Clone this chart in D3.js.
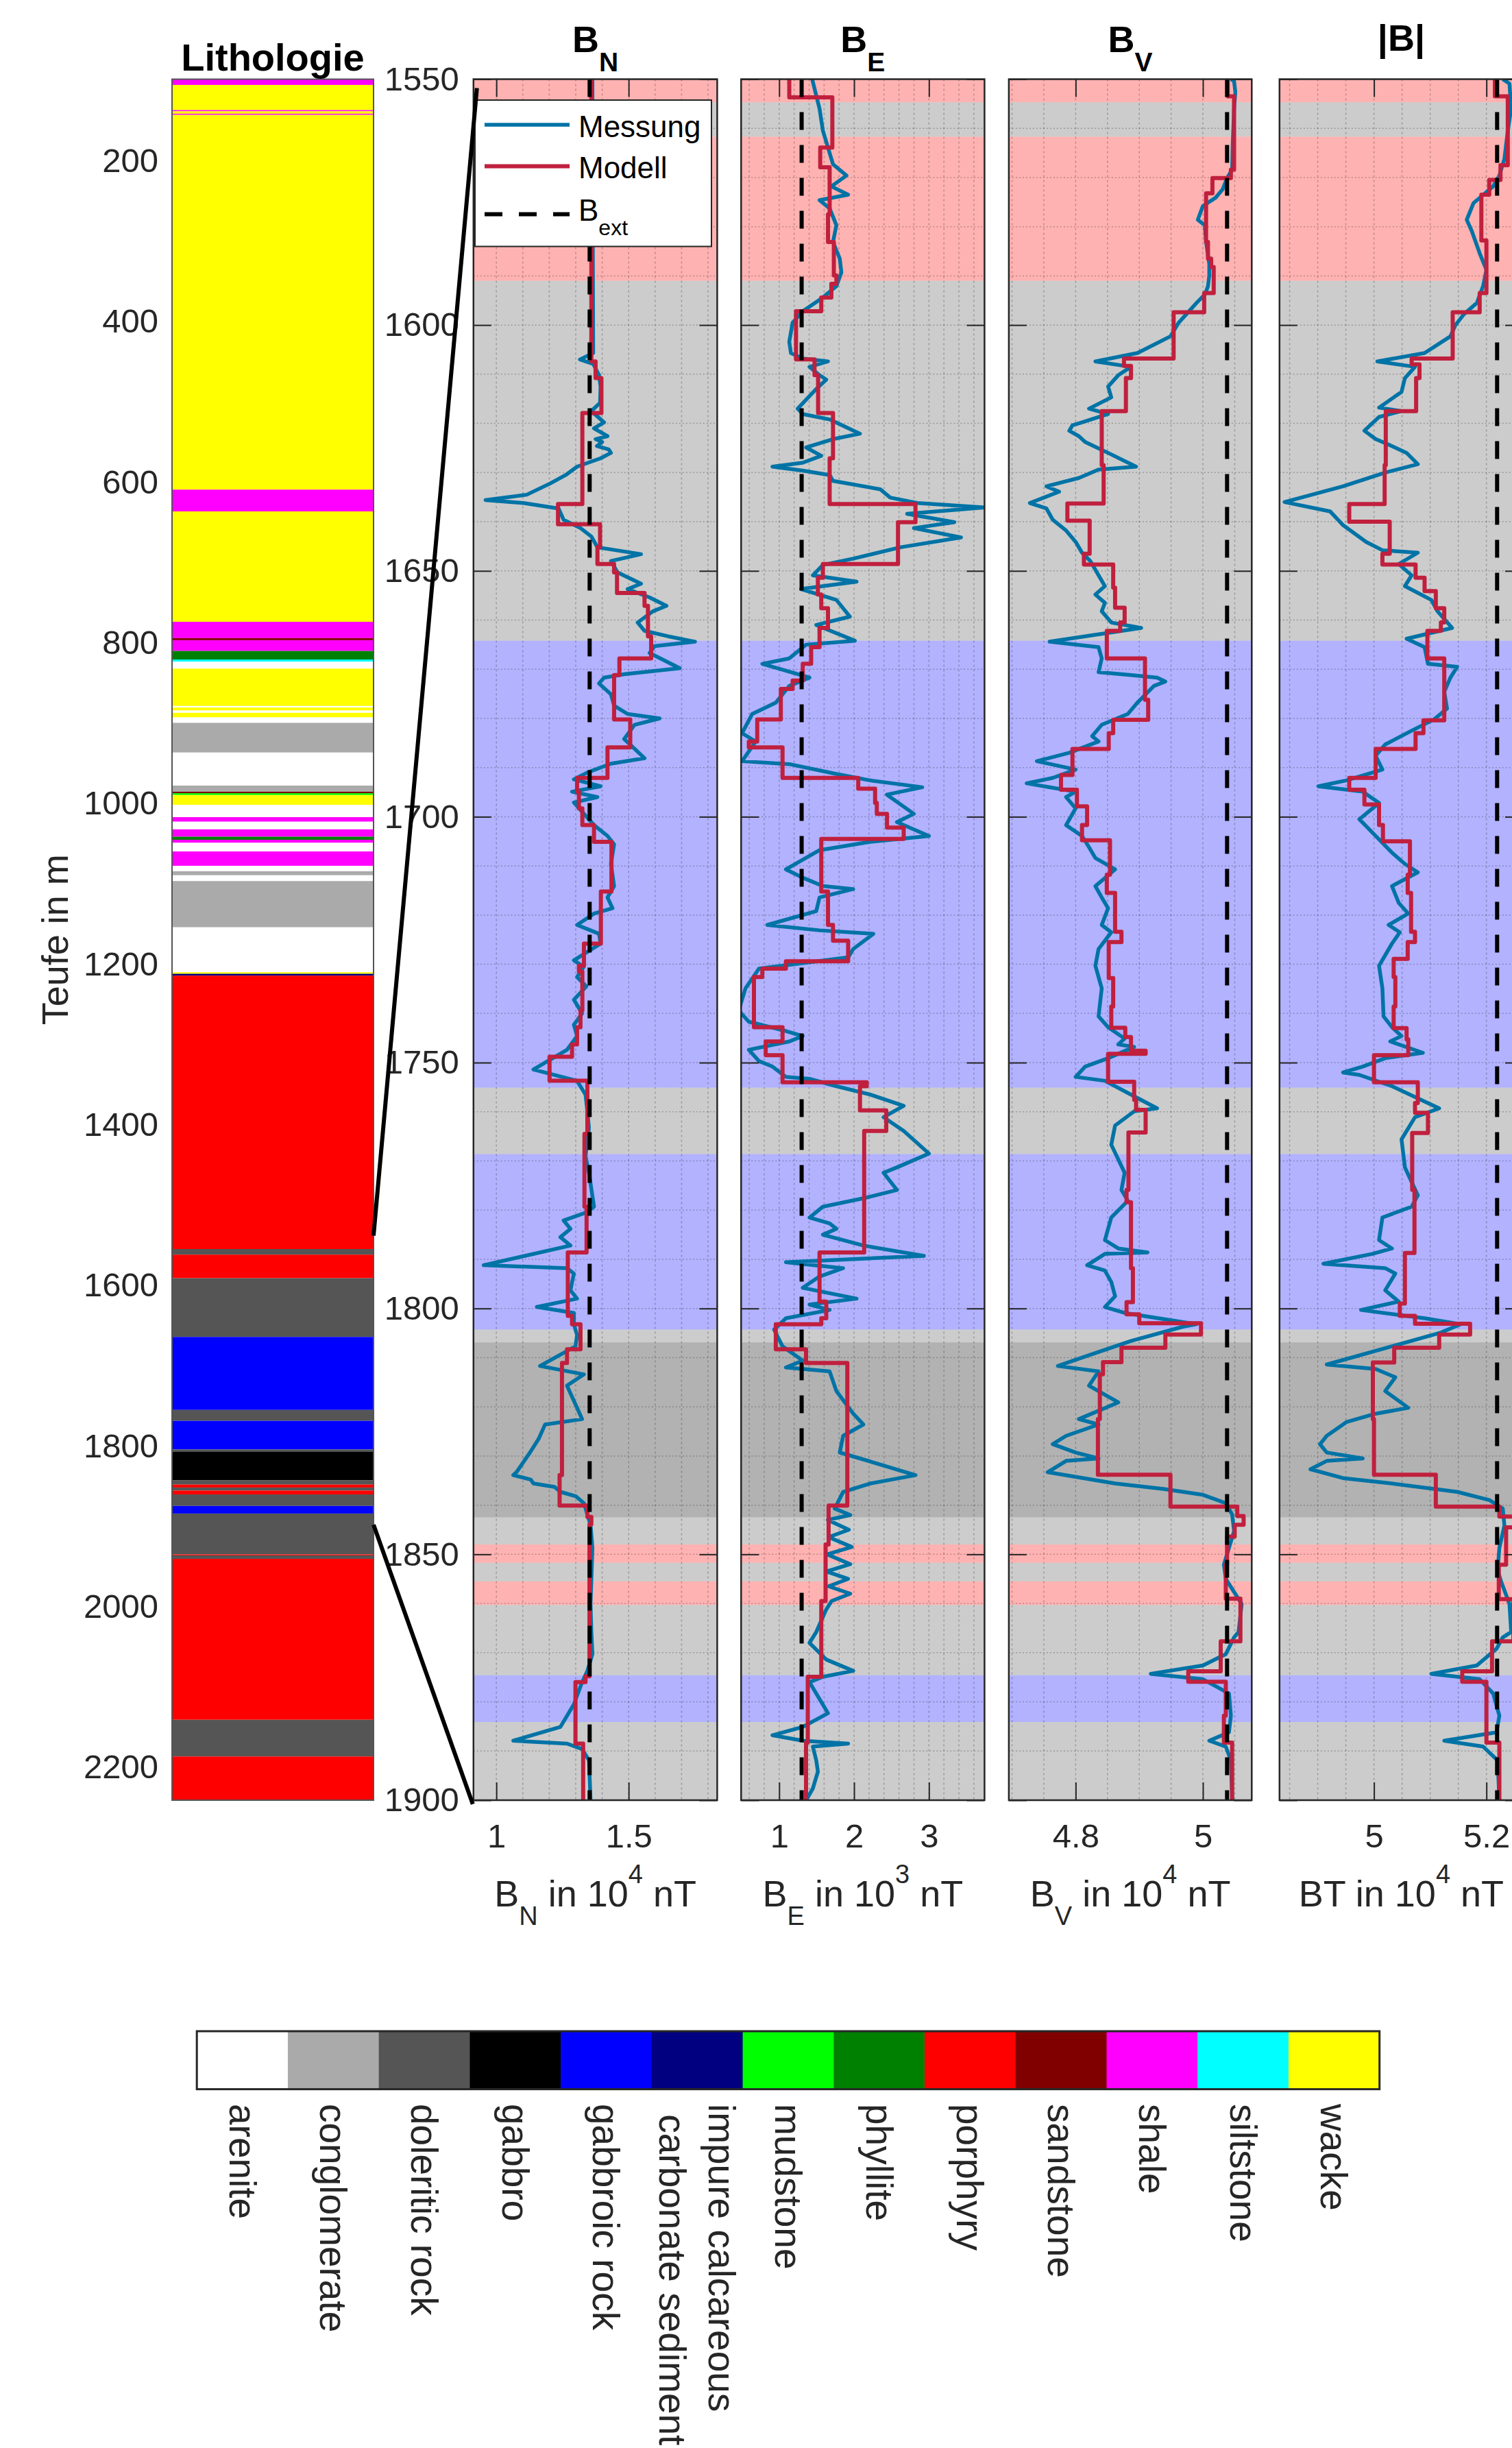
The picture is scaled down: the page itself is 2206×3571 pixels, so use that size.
<!DOCTYPE html>
<html><head><meta charset="utf-8">
<script src="https://cdn.jsdelivr.net/npm/d3@7"></script>
<style>body{margin:0;background:#fff} svg{display:block} text{font-family:"Liberation Sans",Arial,Helvetica,sans-serif}</style>
</head><body><svg id="c" width="2206" height="3571"></svg>
<script>
// ---------------- DATA ----------------
const lithoNames = ["arenite","conglomerate","doleritic rock","gabbro","gabbroic rock","impure calcareous\n carbonate sediment","mudstone","phyllite","porphyry","sandstone","shale","siltstone","wacke"];
const lithoColors = ["#ffffff","#aaaaaa","#555555","#000000","#0000ff","#000080","#00ff00","#008000","#ff0000","#800000","#ff00ff","#00ffff","#ffff00"];
// [top, bottom, lithology index]
const lithoLayers = [
[98,105.2,10],[105.2,136.5,12],[136.5,138,10],[138,141,12],[141,142.5,10],[142.5,609.1,12],[609.1,636.2,10],[636.2,773.7,12],
[773.7,794,10],[794,796.6,9],[796.6,810,10],[810,820.6,7],[820.6,823.3,11],[823.3,832,0],[832,878.5,12],[878.5,880.4,0],
[880.4,884.2,12],[884.2,887,0],[887,892.7,12],[892.7,899.5,0],[899.5,936.5,1],[936.5,977.6,0],[977.6,985.2,1],[985.2,987.1,9],
[987.1,989.4,6],[989.4,1001.6,12],[1001.6,1016.9,0],[1016.9,1022.6,10],[1022.6,1032.1,0],[1032.1,1041.3,10],[1041.3,1045.1,7],
[1045.1,1048.9,10],[1048.9,1059.6,0],[1059.6,1077.5,10],[1077.5,1084.3,0],[1084.3,1089.3,1],[1089.3,1096.5,0],[1096.5,1154.1,1],
[1154.1,1210.1,0],[1210.1,1212,12],[1212,1214.3,5],[1214.3,1554.7,8],[1554.7,1561.7,2],[1561.7,1591,8],[1591,1664.2,2],
[1664.2,1755.1,4],[1755.1,1768.6,2],[1768.6,1804.3,4],[1804.3,1806.9,2],[1806.9,1842.5,3],[1842.5,1848,2],[1848,1851.7,8],
[1851.7,1855.5,2],[1855.5,1860.3,8],[1860.3,1874.6,2],[1874.6,1884.1,4],[1884.1,1935,2],[1935,1936.2,8],[1936.2,1940.5,2],
[1940.5,2140.9,8],[2140.9,2186.6,2],[2186.6,2241,8]];
const lithoDomain = [98, 2241];
const lithoTicks = [200,400,600,800,1000,1200,1400,1600,1800,2000,2200];
const panelDomain = [1550, 1900];
const panelTicks = [1550,1600,1650,1700,1750,1800,1850,1900];
const zoomFrom = [1538, 1898];   // depths on the lithology column
const zoomTo = [1551.8, 1900.8]; // depths on the detail panels

const bnDomain=[0.9135,1.8347], bnTicks=[1,1.5], bnMinor=0.1, bnExt=1.3526;
const beDomain=[0.492,3.742], beTicks=[1,2,3], beMinor=0.2, beExt=1.30;
const bvDomain=[4.695,5.0768], bvTicks=[4.8,5], bvMinor=0.05, bvExt=5.038;
const btDomain=[4.832,5.265], btTicks=[5,5.2], btMinor=0.05, btExt=5.219;

// Messung: [depth, value]
const bnMessung = [[1550,1.363],[1577.5,1.364],[1605.7,1.366],[1607.0,1.316],[1607.9,1.366],[1610.2,1.388],[1612.5,1.394],[1615.8,1.392],[1617.5,1.359],[1619.8,1.407],[1621.0,1.369],[1622.6,1.420],[1623.2,1.375],[1623.8,1.400],[1624.6,1.38],[1625.3,1.425],[1626.0,1.433],[1627.1,1.394],[1628.8,1.305],[1630.5,1.262],[1632.2,1.204],[1634.5,1.115],[1635.6,0.959],[1636.2,1.102],[1637.3,1.235],[1639.6,1.254],[1641.3,1.318],[1643.0,1.359],[1645.2,1.382],[1646.6,1.547],[1648.0,1.433],[1650.3,1.458],[1652.6,1.547],[1653.7,1.496],[1655.4,1.579],[1657.1,1.643],[1658.2,1.592],[1660.5,1.534],[1662.2,1.560],[1663.3,1.649],[1664.4,1.751],[1665.3,1.598],[1666.7,1.579],[1669.8,1.693],[1671.0,1.483],[1671.7,1.407],[1672.9,1.388],[1675.1,1.433],[1677.4,1.445],[1679.1,1.496],[1680.0,1.617],[1681.3,1.522],[1684.2,1.483],[1688.1,1.560],[1689.2,1.433],[1691.0,1.344],[1692.4,1.293],[1693.8,1.394],[1694.9,1.286],[1696.0,1.382],[1697.1,1.293],[1699.4,1.331],[1701.7,1.369],[1703.9,1.420],[1705.6,1.445],[1709.6,1.433],[1714.1,1.445],[1716.4,1.420],[1718.6,1.439],[1719.7,1.369],[1722.0,1.305],[1723.1,1.356],[1723.8,1.388],[1725.8,1.394],[1729.2,1.293],[1730.5,1.33],[1732.6,1.305],[1734.5,1.34],[1737.2,1.293],[1740.0,1.324],[1742.3,1.293],[1744.6,1.305],[1747.4,1.267],[1751.4,1.140],[1753.7,1.305],[1756.5,1.337],[1759.9,1.344],[1763.3,1.350],[1769.0,1.337],[1772.4,1.350],[1779.3,1.369],[1780.4,1.344],[1782.1,1.254],[1783.8,1.280],[1785.5,1.242],[1787.2,1.280],[1791.2,0.952],[1791.8,1.267],[1792.9,1.293],[1796.3,1.280],[1798.0,1.305],[1799.7,1.153],[1800.9,1.293],[1803.2,1.293],[1805.4,1.305],[1807.7,1.299],[1811.7,1.165],[1813.4,1.331],[1815.7,1.267],[1820.2,1.305],[1822.5,1.324],[1823.6,1.184],[1826.5,1.16],[1829.3,1.127],[1833.3,1.076],[1833.9,1.064],[1834.8,1.13],[1835.6,1.140],[1836.3,1.22],[1837.3,1.242],[1838.2,1.30],[1839.6,1.331],[1841.9,1.344],[1844.1,1.356],[1848.7,1.363],[1860.1,1.356],[1865.8,1.359],[1870.3,1.363],[1873.7,1.344],[1876.0,1.324],[1880.5,1.293],[1885.1,1.242],[1887.9,1.064],[1888.5,1.267],[1889.6,1.324],[1891.9,1.350],[1900,1.356]];
const beMessung = [[1550,1.441],[1556.0,1.539],[1560.5,1.584],[1563.9,1.652],[1567.3,1.719],[1569.6,1.899],[1571.8,1.697],[1573.5,1.921],[1574.6,1.539],[1576.3,1.674],[1579.7,1.764],[1583.1,1.719],[1586.5,1.809],[1589.3,1.831],[1592.1,1.764],[1594.4,1.584],[1597.2,1.315],[1599.5,1.180],[1603.4,1.135],[1605.7,1.157],[1606.8,1.315],[1607.4,1.652],[1608.5,1.405],[1610.2,1.539],[1611.1,1.629],[1613.0,1.495],[1617.0,1.247],[1618.1,1.315],[1619.2,1.674],[1622.1,2.079],[1623.2,1.719],[1624.9,1.360],[1626.6,1.562],[1628.0,1.315],[1628.8,0.910],[1629.6,1.315],[1630.5,1.674],[1631.7,1.719],[1633.4,2.349],[1635.1,2.483],[1636.2,2.843],[1637.1,3.742],[1638.4,2.708],[1640.1,3.34],[1641.3,2.798],[1643.2,3.428],[1645.2,2.618],[1647.5,1.989],[1648.8,1.584],[1650.9,1.450],[1652.2,2.034],[1653.7,1.292],[1655.9,1.764],[1659.3,1.944],[1661.0,1.495],[1664.2,2.011],[1665.0,1.360],[1667.8,1.135],[1668.9,0.775],[1671.7,1.405],[1673.4,1.135],[1676.8,0.955],[1679.1,0.640],[1683.0,0.505],[1684.7,0.685],[1688.7,0.505],[1689.3,1.135],[1691.3,1.764],[1692.6,2.214],[1694.0,2.911],[1695.5,2.438],[1699.4,2.798],[1701.1,2.573],[1703.9,3.000],[1705.1,2.214],[1706.8,1.539],[1710.7,1.090],[1712.4,1.315],[1714.1,1.584],[1714.7,1.989],[1716.4,1.539],[1719.2,1.495],[1722.0,0.842],[1723.1,1.539],[1723.8,2.259],[1726.9,1.989],[1728.6,1.921],[1730.9,0.730],[1734.9,0.550],[1739.4,0.460],[1741.7,0.595],[1743.4,1.045],[1744.6,1.315],[1745.7,1.135],[1747.4,0.595],[1749.7,0.730],[1750.8,0.910],[1752.9,1.090],[1753.3,1.405],[1754.8,1.764],[1756.5,2.214],[1758.8,2.663],[1761.1,2.394],[1763.9,2.663],[1768.5,3.000],[1771.3,2.573],[1772.4,2.394],[1775.9,2.573],[1777.6,2.124],[1779.3,1.584],[1781.5,1.405],[1782.7,1.674],[1783.8,1.764],[1785.0,1.584],[1787.2,2.124],[1789.3,2.933],[1790.6,1.090],[1791.8,1.854],[1793.5,1.539],[1795.8,1.315],[1798.0,2.034],[1799.2,1.405],[1800.3,1.674],[1802.0,1.090],[1804.3,0.932],[1807.7,1.045],[1810.6,1.315],[1812.0,1.090],[1812.8,1.674],[1816.8,1.764],[1821.4,1.989],[1823.6,2.124],[1825.9,1.854],[1829.3,1.809],[1830.5,2.079],[1833.9,2.821],[1835.6,2.214],[1837.3,1.854],[1840.7,1.742],[1842,1.95],[1843,1.65],[1845,1.93],[1846.5,1.66],[1848.5,1.97],[1850,1.64],[1852,1.95],[1853.5,1.63],[1855,1.92],[1856.5,1.66],[1858,1.95],[1859.5,1.70],[1861.2,1.629],[1865.8,1.495],[1868.0,1.405],[1871.4,1.629],[1873.7,1.989],[1874.9,1.584],[1876.0,1.405],[1878.3,1.495],[1882.3,1.652],[1885.1,1.315],[1886.8,0.910],[1887.9,1.315],[1888.5,1.921],[1889.1,1.450],[1891.9,1.495],[1894.2,1.517],[1897.6,1.450],[1900,1.360]];
const bvMessung = [[1550,5.044],[1550.4,5.049],[1552.6,5.051],[1556.0,5.049],[1562.8,5.047],[1568.4,5.046],[1570.1,5.038],[1572.4,5.031],[1574.1,5.020],[1575.8,5.000],[1578.6,4.992],[1579.7,5.003],[1583.1,5.005],[1587.6,5.010],[1589.9,5.010],[1592.1,5.008],[1593.8,5.003],[1595.5,4.990],[1597.8,4.974],[1599.5,4.962],[1602.3,4.949],[1605.7,4.897],[1607.4,4.831],[1608.5,4.887],[1610.2,4.867],[1612.5,4.851],[1614.7,4.856],[1617.0,4.821],[1618.1,4.851],[1619.8,4.810],[1620.4,4.795],[1621.5,4.790],[1622.6,4.805],[1623.8,4.815],[1624.9,4.833],[1626.0,4.851],[1628.8,4.895],[1629.4,4.836],[1631.1,4.805],[1632.8,4.754],[1633.9,4.774],[1636.2,4.728],[1637.3,4.754],[1639.6,4.764],[1641.8,4.785],[1644.1,4.800],[1646.3,4.810],[1648.0,4.823],[1650.9,4.836],[1653.1,4.846],[1654.8,4.831],[1656.5,4.846],[1658.2,4.841],[1660.5,4.856],[1661.6,4.903],[1664.4,4.759],[1665.5,4.836],[1667.8,4.841],[1670.6,4.836],[1671.2,4.887],[1671.7,4.928],[1672.5,4.941],[1673.4,4.923],[1676.8,4.897],[1679.1,4.882],[1681.3,4.841],[1683.6,4.826],[1684.7,4.836],[1687.0,4.790],[1688.7,4.739],[1690.4,4.800],[1692.1,4.764],[1693.2,4.723],[1694.9,4.800],[1696.0,4.785],[1698.3,4.800],[1701.7,4.785],[1703.9,4.810],[1706.2,4.821],[1708.4,4.831],[1710.7,4.862],[1714.1,4.831],[1716.4,4.841],[1718.6,4.851],[1722.0,4.841],[1723.5,4.856],[1726.9,4.836],[1730.3,4.831],[1734.9,4.841],[1740.6,4.836],[1742.8,4.851],[1745.1,4.877],[1746.3,4.867],[1746.8,4.892],[1749.1,4.851],[1750.8,4.815],[1752.9,4.800],[1753.7,4.846],[1756.5,4.887],[1759.3,4.928],[1759.9,4.892],[1762.8,4.862],[1766.7,4.856],[1772.4,4.877],[1775.9,4.872],[1778.1,4.882],[1781.5,4.856],[1786.1,4.846],[1787.8,4.867],[1788.6,4.913],[1788.9,4.846],[1791.2,4.818],[1792.3,4.846],[1794.6,4.856],[1797.5,4.862],[1799.7,4.846],[1800.9,4.877],[1803.2,4.990],[1803.7,4.969],[1806.6,4.887],[1810.0,4.810],[1811.7,4.772],[1812.8,4.836],[1815.7,4.821],[1819.1,4.867],[1822.5,4.805],[1823.6,4.836],[1825.9,4.785],[1827.6,4.764],[1829.3,4.800],[1830.5,4.836],[1831.0,4.785],[1833.3,4.756],[1835.6,4.862],[1836.7,4.938],[1837.9,5.000],[1839.6,5.036],[1841.9,5.046],[1845.3,5.049],[1848.7,5.041],[1852.1,5.033],[1855.0,5.036],[1860.1,5.061],[1865.8,5.056],[1866.9,5.049],[1870.3,5.036],[1872.6,5.000],[1874.3,4.918],[1875.4,5.000],[1878.3,5.041],[1882.8,5.044],[1886.2,5.041],[1887.9,5.010],[1889.1,5.036],[1891.9,5.044],[1900,5.046]];
const btMessung = [[1550,5.229],[1550.9,5.241],[1556.0,5.244],[1560.5,5.238],[1566.2,5.232],[1569.6,5.223],[1571.8,5.212],[1575.2,5.177],[1578.6,5.165],[1580.9,5.174],[1585.4,5.188],[1588.8,5.200],[1592.1,5.194],[1595.5,5.183],[1597.8,5.160],[1600.0,5.145],[1602.3,5.136],[1605.7,5.090],[1607.4,5.006],[1608.5,5.073],[1610.8,5.055],[1613.6,5.049],[1616.8,5.009],[1617.5,5.049],[1618.7,5.009],[1621.5,4.983],[1623.2,5.003],[1624.3,5.026],[1626.0,5.058],[1628.3,5.078],[1630.0,5.020],[1632.8,4.945],[1636.0,4.841],[1637.9,4.922],[1640.7,4.945],[1644.1,4.986],[1645.8,5.015],[1646.3,5.078],[1648.6,5.044],[1650.9,5.067],[1653.1,5.055],[1655.9,5.102],[1658.2,5.113],[1661.6,5.139],[1663.8,5.058],[1665.5,5.090],[1668.9,5.096],[1669.5,5.148],[1671.7,5.136],[1674.6,5.125],[1678.0,5.130],[1680.2,5.107],[1682.5,5.067],[1685.3,5.020],[1687.6,5.003],[1690.4,5.015],[1692.6,4.951],[1693.8,4.901],[1694.9,4.980],[1697.2,5.009],[1700.5,4.974],[1703.9,5.003],[1707.3,5.032],[1709.6,5.055],[1711.3,5.078],[1714.1,5.032],[1717.5,5.044],[1719.7,5.061],[1722.0,5.026],[1723.5,5.046],[1725.8,5.032],[1730.3,5.009],[1734.9,5.015],[1740.6,5.017],[1742.8,5.032],[1744.6,5.049],[1745.7,5.029],[1748.0,5.087],[1749.1,5.020],[1750.8,4.980],[1752.0,4.945],[1752.5,4.974],[1754.8,5.032],[1757.6,5.084],[1759.3,5.116],[1761.1,5.073],[1765.6,5.049],[1771.3,5.055],[1777.0,5.078],[1779.3,5.067],[1781.5,5.015],[1786.1,5.009],[1787.8,5.032],[1788.9,4.997],[1790.9,4.910],[1791.8,5.020],[1792.9,5.038],[1796.3,5.020],[1798.6,5.044],[1800.3,4.977],[1802.0,5.090],[1803.2,5.154],[1804.9,5.119],[1807.7,5.032],[1811.4,4.916],[1812.3,5.003],[1814.0,5.038],[1816.8,5.020],[1820.2,5.061],[1821.4,5.003],[1823.1,4.951],[1825.9,4.916],[1827.6,4.904],[1829.3,4.916],[1830.5,4.980],[1831.0,4.916],[1832.7,4.887],[1834.5,4.945],[1835.6,5.032],[1837.3,5.148],[1839.0,5.206],[1840.7,5.229],[1844.1,5.232],[1848.7,5.223],[1853.2,5.220],[1855.5,5.226],[1860.1,5.241],[1865.8,5.244],[1866.9,5.229],[1869.2,5.218],[1872.6,5.183],[1874.3,5.102],[1875.4,5.188],[1878.3,5.212],[1882.8,5.223],[1886.2,5.218],[1887.9,5.125],[1889.1,5.194],[1891.9,5.220],[1900,5.223]];

// Modell: [top, bottom, value]
const bnModell = [[1550,1607.4,1.359],[1607.4,1610.8,1.375],[1610.8,1617.9,1.397],[1617.9,1636.4,1.325],[1636.4,1640.5,1.233],[1640.5,1645.2,1.392],[1645.2,1648.6,1.382],[1648.6,1650.3,1.445],[1650.3,1654.5,1.456],[1654.5,1657.1,1.560],[1657.1,1663.3,1.573],[1663.3,1667.8,1.585],[1667.8,1671.2,1.465],[1671.2,1680.2,1.445],[1680.2,1685.9,1.506],[1685.9,1692.1,1.420],[1692.1,1694.9,1.305],[1694.9,1698.3,1.312],[1698.3,1701.7,1.325],[1701.7,1705.1,1.369],[1705.1,1715.2,1.435],[1715.2,1725.8,1.395],[1725.8,1730.3,1.331],[1730.3,1731.5,1.312],[1731.5,1739.4,1.325],[1739.4,1742.8,1.318],[1742.8,1746.3,1.305],[1746.3,1748.8,1.286],[1748.8,1753.7,1.201],[1753.7,1764.5,1.344],[1764.5,1779.3,1.333],[1779.3,1788.6,1.341],[1788.6,1801.5,1.270],[1801.5,1803.2,1.286],[1803.2,1808.3,1.318],[1808.3,1811.1,1.267],[1811.1,1833.9,1.248],[1833.9,1840.1,1.239],[1840.1,1842.4,1.344],[1842.4,1843.9,1.359],[1843.9,1874.8,1.352],[1874.8,1876.0,1.337],[1876.0,1888.5,1.299],[1888.5,1900,1.328]];
const beModell = [[1550,1553.7,1.135],[1553.7,1563.9,1.710],[1563.9,1567.9,1.548],[1567.9,1577.5,1.674],[1577.5,1583.1,1.652],[1583.1,1589.9,1.730],[1589.9,1591.6,1.764],[1591.6,1594.4,1.697],[1594.4,1597.2,1.562],[1597.2,1607.0,1.225],[1607.0,1610.2,1.472],[1610.2,1617.9,1.520],[1617.9,1627.1,1.719],[1627.1,1636.4,1.674],[1636.4,1640.1,2.820],[1640.1,1648.6,2.587],[1648.6,1651.4,1.584],[1651.4,1654.8,1.517],[1654.8,1657.6,1.562],[1657.6,1661.6,1.652],[1661.6,1665.5,1.539],[1665.5,1668.9,1.427],[1668.9,1672.3,1.315],[1672.3,1674.0,1.180],[1674.0,1680.2,1.022],[1680.2,1684.7,0.707],[1684.7,1685.9,0.595],[1685.9,1692.1,1.045],[1692.1,1694.3,2.056],[1694.3,1697.2,2.281],[1697.2,1699.4,2.304],[1699.4,1702.2,2.440],[1702.2,1704.5,2.663],[1704.5,1715.2,1.562],[1715.2,1722.0,1.652],[1722.0,1725.2,1.719],[1725.2,1729.4,1.921],[1729.4,1730.9,1.090],[1730.9,1732.6,0.775],[1732.6,1742.8,0.663],[1742.8,1745.7,1.045],[1745.7,1748.5,0.820],[1748.5,1754.0,1.045],[1754.0,1754.8,2.169],[1754.8,1759.7,2.079],[1759.7,1763.9,2.430],[1763.9,1788.6,2.135],[1788.6,1798.6,1.539],[1798.6,1802.0,1.629],[1802.0,1803.2,1.562],[1803.2,1808.3,0.955],[1808.3,1811.1,1.359],[1811.1,1840.1,1.910],[1840.1,1848.0,1.660],[1848.0,1859.5,1.620],[1859.5,1874.9,1.562],[1874.9,1888.3,1.382],[1888.3,1900,1.359]];
const bvModell = [[1550,1553.5,5.039],[1553.5,1568.4,5.049],[1568.4,1570.1,5.044],[1570.1,1573.2,5.015],[1573.2,1583.1,5.005],[1583.1,1586.5,5.008],[1586.5,1588.2,5.013],[1588.2,1593.5,5.017],[1593.5,1597.4,5.002],[1597.4,1606.8,4.954],[1606.8,1608.3,4.876],[1608.3,1610.8,4.887],[1610.8,1617.5,4.879],[1617.5,1628.5,4.841],[1628.5,1636.3,4.844],[1636.3,1639.8,4.787],[1639.8,1646.5,4.822],[1646.5,1648.7,4.813],[1648.7,1653.4,4.859],[1653.4,1657.5,4.862],[1657.5,1660.5,4.877],[1660.5,1662.2,4.870],[1662.2,1667.8,4.849],[1667.8,1676.2,4.909],[1676.2,1680.3,4.914],[1680.3,1683.0,4.859],[1683.0,1686.2,4.852],[1686.2,1691.5,4.795],[1691.5,1694.5,4.777],[1694.5,1697.9,4.802],[1697.9,1701.7,4.818],[1701.7,1704.8,4.810],[1704.8,1711.8,4.854],[1711.8,1715.5,4.849],[1715.5,1723.4,4.862],[1723.4,1725.5,4.872],[1725.5,1732.8,4.852],[1732.8,1738.6,4.859],[1738.6,1742.9,4.856],[1742.9,1744.8,4.878],[1744.8,1747.6,4.887],[1747.6,1748.2,4.910],[1748.2,1753.9,4.851],[1753.9,1757.6,4.892],[1757.6,1759.6,4.895],[1759.6,1764.2,4.910],[1764.2,1775.9,4.883],[1775.9,1778.4,4.880],[1778.4,1791.8,4.887],[1791.8,1798.7,4.890],[1798.7,1801.2,4.880],[1801.2,1803.0,4.900],[1803.0,1805.3,4.997],[1805.3,1808.0,4.941],[1808.0,1810.9,4.872],[1810.9,1813.4,4.843],[1813.4,1822.5,4.838],[1822.5,1833.8,4.835],[1833.8,1840.3,4.949],[1840.3,1842.2,5.054],[1842.2,1844.0,5.064],[1844.0,1846.4,5.050],[1846.4,1852.1,5.038],[1852.1,1859.0,5.036],[1859.0,1867.7,5.059],[1867.7,1873.8,5.028],[1873.8,1875.9,4.977],[1875.9,1882.8,5.036],[1882.8,1888.3,5.033],[1888.3,1900,5.046]];
const btModell = [[1550,1553.5,5.215],[1553.5,1567.5,5.238],[1567.5,1570.5,5.225],[1570.5,1573.5,5.205],[1573.5,1582.8,5.191],[1582.8,1593.5,5.200],[1593.5,1597.4,5.188],[1597.4,1606.8,5.140],[1606.8,1608.0,5.067],[1608.0,1610.8,5.081],[1610.8,1617.5,5.075],[1617.5,1628.5,5.021],[1628.5,1636.4,5.019],[1636.4,1640.0,4.956],[1640.0,1646.5,5.028],[1646.5,1648.7,5.015],[1648.7,1651.4,5.074],[1651.4,1654.1,5.090],[1654.1,1657.6,5.110],[1657.6,1660.5,5.125],[1660.5,1662.2,5.119],[1662.2,1667.8,5.095],[1667.8,1680.4,5.125],[1680.4,1683.0,5.088],[1683.0,1686.2,5.074],[1686.2,1692.1,5.003],[1692.1,1694.5,4.956],[1694.5,1697.5,4.983],[1697.5,1701.7,5.009],[1701.7,1705.0,5.016],[1705.0,1711.8,5.064],[1711.8,1715.5,5.060],[1715.5,1723.4,5.066],[1723.4,1725.5,5.073],[1725.5,1728.9,5.060],[1728.9,1732.6,5.035],[1732.6,1738.6,5.038],[1738.6,1743.0,5.035],[1743.0,1745.3,5.058],[1745.3,1748.5,5.061],[1748.5,1754.0,5.000],[1754.0,1758.2,5.078],[1758.2,1760.2,5.073],[1760.2,1764.3,5.096],[1764.3,1775.9,5.068],[1775.9,1788.7,5.072],[1788.7,1799.0,5.055],[1799.0,1801.5,5.046],[1801.5,1803.1,5.073],[1803.1,1805.3,5.171],[1805.3,1808.0,5.116],[1808.0,1811.0,5.036],[1811.0,1822.5,4.998],[1822.5,1833.8,5.000],[1833.8,1840.3,5.110],[1840.3,1842.3,5.223],[1842.3,1844.5,5.250],[1844.5,1852.1,5.235],[1852.1,1859.1,5.222],[1859.1,1867.7,5.248],[1867.7,1873.8,5.210],[1873.8,1875.9,5.157],[1875.9,1888.3,5.200],[1888.3,1900,5.223]];

const legendLabels = ["Messung","Modell","B"];

// ---------------- DRAWING ----------------
const FONT = '"Liberation Sans",Arial,Helvetica,sans-serif';
const TXT = '#262626';
const BLUE = '#0073A6', RED = '#C0203E';
const svg = d3.select('#c');
svg.append('rect').attr('width',2206).attr('height',3571).attr('fill','#fff');

const yTop = 115.5, yBot = 2626;
const yLith = d3.scaleLinear().domain(lithoDomain).range([yTop, yBot]);
const yP = d3.scaleLinear().domain(panelDomain).range([yTop, yBot]);

// ---- lithology column ----
const lx0 = 251, lx1 = 545;
svg.append('g').selectAll('rect').data(lithoLayers).join('rect')
  .attr('x', lx0).attr('width', lx1 - lx0)
  .attr('y', d => yLith(d[0])).attr('height', d => Math.max(0.6, yLith(d[1]) - yLith(d[0])))
  .attr('fill', d => lithoColors[d[2]]);
svg.append('rect').attr('x', lx0).attr('y', yTop).attr('width', lx1 - lx0).attr('height', yBot - yTop)
  .attr('fill', 'none').attr('stroke', '#555').attr('stroke-width', 2);
const lAxis = svg.append('g').attr('transform', `translate(${lx0},0)`)
  .call(d3.axisLeft(yLith).tickValues(lithoTicks).tickSize(0).tickPadding(20).tickFormat(d => String(d)));
lAxis.select('.domain').remove();
lAxis.selectAll('text').attr('font-size', 49).attr('fill', TXT).attr('font-family', FONT);
svg.append('text').attr('transform', `translate(80,${(yTop + yBot) / 2}) rotate(-90)`)
  .attr('text-anchor', 'middle').attr('dominant-baseline', 'central')
  .attr('font-size', 54).attr('fill', TXT).text('Teufe in m');
svg.append('text').attr('x', (lx0 + lx1) / 2).attr('y', 103).attr('text-anchor', 'middle')
  .attr('font-size', 56).attr('font-weight', 'bold').attr('fill', '#000').text('Lithologie');

// ---- panels ----
const panels = [
  {x0: 690.8, x1: 1046.4, dom: bnDomain, ticks: bnTicks, minor: bnMinor, ext: bnExt, meas: bnMessung, model: bnModell, title: ['B','N'], xl: ['B','N','4']},
  {x0: 1081.3, x1: 1436.4, dom: beDomain, ticks: beTicks, minor: beMinor, ext: beExt, meas: beMessung, model: beModell, title: ['B','E'], xl: ['B','E','3']},
  {x0: 1471.9, x1: 1826.3, dom: bvDomain, ticks: bvTicks, minor: bvMinor, ext: bvExt, meas: bvMessung, model: bvModell, title: ['B','V'], xl: ['B','V','4']},
  {x0: 1866.8, x1: 2222, dom: btDomain, ticks: btTicks, minor: btMinor, ext: btExt, meas: btMessung, model: btModell, title: ['|B|',''], xl: ['BT','','4']}
];

panels.forEach((p, i) => {
  const x = d3.scaleLinear().domain(p.dom).range([p.x0, p.x1]);
  const g = svg.append('g');
  const cid = 'clip' + i;
  svg.append('clipPath').attr('id', cid).append('rect')
    .attr('x', p.x0).attr('y', yTop).attr('width', p.x1 - p.x0).attr('height', yBot - yTop);
  const inner = g.append('g').attr('clip-path', `url(#${cid})`);
  const bands = lithoLayers.filter(d => d[1] > panelDomain[0] && d[0] < panelDomain[1]);
  inner.selectAll('rect.band').data(bands).join('rect').attr('class', 'band')
    .attr('x', p.x0).attr('width', p.x1 - p.x0)
    .attr('y', d => yP(Math.max(d[0], panelDomain[0])))
    .attr('height', d => yP(Math.min(d[1], panelDomain[1])) - yP(Math.max(d[0], panelDomain[0])))
    .attr('fill', d => lithoColors[d[2]]).attr('fill-opacity', 0.3);
  const k0 = Math.ceil(p.dom[0] / p.minor - 1e-9), k1 = Math.floor(p.dom[1] / p.minor + 1e-9);
  const vx = d3.range(k0, k1 + 1).map(k => k * p.minor);
  inner.selectAll('line.vg').data(vx).join('line').attr('class', 'vg')
    .attr('x1', d => x(d)).attr('x2', d => x(d)).attr('y1', yTop).attr('y2', yBot)
    .attr('stroke', '#262626').attr('stroke-opacity', 0.3).attr('stroke-width', 1.5).attr('stroke-dasharray', '3,4');
  const hy = d3.range(panelDomain[0] + 10, panelDomain[1], 10);
  inner.selectAll('line.hg').data(hy).join('line').attr('class', 'hg')
    .attr('x1', p.x0).attr('x2', p.x1).attr('y1', d => yP(d)).attr('y2', d => yP(d))
    .attr('stroke', '#262626').attr('stroke-opacity', 0.3).attr('stroke-width', 1.5).attr('stroke-dasharray', '2,3');
  const line = d3.line().x(d => x(d[1])).y(d => yP(d[0]));
  inner.append('path').datum(p.meas).attr('d', line).attr('fill', 'none')
    .attr('stroke', BLUE).attr('stroke-width', 5.5).attr('stroke-linejoin', 'round');
  const stepPts = p.model.flatMap(s => [[s[0], s[2]], [s[1], s[2]]]);
  inner.append('path').datum(stepPts).attr('d', line).attr('fill', 'none')
    .attr('stroke', RED).attr('stroke-width', 6).attr('stroke-linejoin', 'round');
  inner.append('line').attr('x1', x(p.ext)).attr('x2', x(p.ext)).attr('y1', yTop).attr('y2', yBot)
    .attr('stroke', '#000').attr('stroke-width', 6).attr('stroke-dasharray', '26,22');
  const styleAx = sel => {
    sel.select('.domain').remove();
    sel.selectAll('line').attr('stroke', '#262626').attr('stroke-width', 2);
    sel.selectAll('text').attr('font-size', 49).attr('fill', TXT).attr('font-family', FONT);
  };
  g.append('g').attr('transform', `translate(0,${yBot})`)
    .call(d3.axisBottom(x).tickValues(p.ticks).tickSizeInner(-26).tickSizeOuter(0).tickPadding(34).tickFormat(d => String(d))).call(styleAx);
  g.append('g').attr('transform', `translate(0,${yTop})`)
    .call(d3.axisTop(x).tickValues(p.ticks).tickSizeInner(-26).tickSizeOuter(0).tickFormat('')).call(styleAx);
  g.append('g').attr('transform', `translate(${p.x0},0)`)
    .call(d3.axisLeft(yP).tickValues(panelTicks).tickSizeInner(-26).tickSizeOuter(0).tickPadding(21)
      .tickFormat(i === 0 ? (d => String(d)) : '')).call(styleAx);
  g.append('g').attr('transform', `translate(${p.x1},0)`)
    .call(d3.axisRight(yP).tickValues(panelTicks).tickSizeInner(-26).tickSizeOuter(0).tickFormat('')).call(styleAx);
  g.append('rect').attr('x', p.x0).attr('y', yTop).attr('width', p.x1 - p.x0).attr('height', yBot - yTop)
    .attr('fill', 'none').attr('stroke', '#262626').attr('stroke-width', 2.5);
  const cx = (p.x0 + p.x1) / 2;
  const t = g.append('text').attr('x', cx).attr('y', p.title[1] ? 76 : 74).attr('text-anchor', 'middle')
    .attr('font-weight', 'bold').attr('fill', '#000').attr('font-size', 54);
  t.append('tspan').text(p.title[0]);
  if (p.title[1]) t.append('tspan').attr('font-size', 39).attr('dy', 28).text(p.title[1]);
  const xl = g.append('text').attr('x', cx).attr('y', 2781).attr('text-anchor', 'middle')
    .attr('fill', TXT).attr('font-size', 54);
  xl.append('tspan').text(p.xl[0]);
  if (p.xl[1]) {
    xl.append('tspan').attr('font-size', 38).attr('dy', 27).text(p.xl[1]);
    xl.append('tspan').attr('dy', -27).text(' in 10');
  } else {
    xl.append('tspan').text(' in 10');
  }
  xl.append('tspan').attr('font-size', 38).attr('dy', -34).text(p.xl[2]);
  xl.append('tspan').attr('dy', 34).text(' nT');
});

// ---- legend in first panel ----
const lg = svg.append('g');
lg.append('rect').attr('x', 693).attr('y', 146).attr('width', 345).attr('height', 213.5)
  .attr('fill', '#fff').attr('stroke', '#262626').attr('stroke-width', 2);
const legY = [182, 242.5, 312.5];
const legStyle = [{c: BLUE, w: 5.5, d: null}, {c: RED, w: 6, d: null}, {c: '#000', w: 6, d: '26,24'}];
legY.forEach((y, i) => {
  const l = lg.append('line').attr('x1', 707).attr('x2', 831).attr('y1', y).attr('y2', y)
    .attr('stroke', legStyle[i].c).attr('stroke-width', legStyle[i].w);
  if (legStyle[i].d) l.attr('stroke-dasharray', legStyle[i].d);
});
lg.append('text').attr('x', 844).attr('y', 200).attr('font-size', 44).attr('fill', '#000').text(legendLabels[0]);
lg.append('text').attr('x', 844).attr('y', 260).attr('font-size', 44).attr('fill', '#000').text(legendLabels[1]);
const bt = lg.append('text').attr('x', 844).attr('y', 322).attr('font-size', 44).attr('fill', '#000');
bt.append('tspan').text(legendLabels[2]);
bt.append('tspan').attr('font-size', 32).attr('dy', 21).text('ext');

// ---- zoom connector lines ----
svg.append('line').attr('x1', lx1).attr('y1', yLith(zoomFrom[0])).attr('x2', panels[0].x0 + 5).attr('y2', yP(zoomTo[0]))
  .attr('stroke', '#000').attr('stroke-width', 6);
svg.append('line').attr('x1', lx1).attr('y1', yLith(zoomFrom[1])).attr('x2', panels[0].x0 - 1).attr('y2', yP(zoomTo[1]))
  .attr('stroke', '#000').attr('stroke-width', 6);

// ---- colorbar legend ----
const cbx = d3.scaleBand().domain(d3.range(lithoNames.length)).range([287.2, 2012.7]).paddingInner(0).paddingOuter(0);
const cb = svg.append('g');
cb.selectAll('rect.cb').data(lithoNames).join('rect').attr('class', 'cb')
  .attr('x', (d, i) => cbx(i)).attr('width', cbx.bandwidth() + 0.5)
  .attr('y', 2963).attr('height', 84.6).attr('fill', (d, i) => lithoColors[i]);
cb.append('rect').attr('x', 287.2).attr('y', 2963).attr('width', 2012.7 - 287.2).attr('height', 84.6)
  .attr('fill', 'none').attr('stroke', '#262626').attr('stroke-width', 3);
lithoNames.forEach((name, i) => {
  const lines = name.split('\n');
  const cx = cbx(i) + cbx.bandwidth() / 2;
  const n = lines.length;
  lines.forEach((ln, j) => {
    const off = ((n - 1) / 2 - j) * 72;
    cb.append('text')
      .attr('transform', `translate(${cx + off},3069) rotate(90)`)
      .attr('dominant-baseline', 'central').attr('text-anchor', 'start')
      .attr('font-size', 55).attr('fill', TXT).attr('xml:space', 'preserve')
      .style('white-space', 'pre').text(ln);
  });
});
</script></body></html>
